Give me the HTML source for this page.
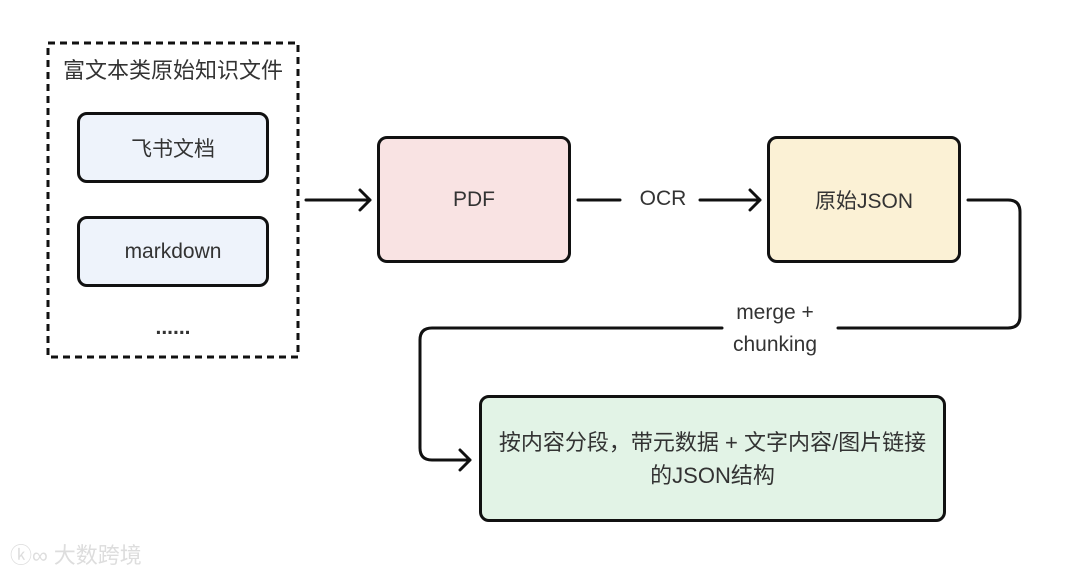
<!DOCTYPE html>
<html><head><meta charset="utf-8"><style>
body{margin:0;width:1080px;height:573px;background:#fff;overflow:hidden;position:relative;font-family:"Liberation Sans","Noto Sans CJK SC",sans-serif;color:#333}
.b{position:absolute;box-sizing:border-box;border:3px solid #111;border-radius:10px;display:flex;align-items:center;justify-content:center;text-align:center;font-size:21px}
.t{position:absolute;font-size:21px;text-align:center;background:#fff}
</style></head><body>
<svg width="1080" height="573" style="position:absolute;left:0;top:0">
<rect x="48" y="43" width="250" height="314" fill="none" stroke="#111" stroke-width="3" stroke-dasharray="7,5"/>
<g fill="none" stroke="#111" stroke-width="3" stroke-linecap="round" stroke-linejoin="round">
<path d="M306 200H370M360 190L370 200L360 210"/>
<path d="M578 200H620M700 200H760M750 190L760 200L750 210"/>
<path d="M968 200H1008Q1020 200 1020 212V316Q1020 328 1008 328H838M722 328H432Q420 328 420 340V448Q420 460 432 460H470M460 450L470 460L460 470"/>
</g>
</svg>
<div class="t" style="left:50px;top:53px;width:246px;font-size:22px">富文本类原始知识文件</div>
<div class="b" style="left:77px;top:112px;width:192px;height:71px;background:#eef3fb">飞书文档</div>
<div class="b" style="left:77px;top:216px;width:192px;height:71px;background:#eef3fb">markdown</div>
<div class="t" style="left:140px;top:316px;width:66px;font-weight:bold">......</div>
<div class="b" style="left:377px;top:136px;width:194px;height:127px;background:#f9e3e3">PDF</div>
<div class="t" style="left:628px;top:187px;width:70px">OCR</div>
<div class="b" style="left:767px;top:136px;width:194px;height:127px;background:#fbf1d5">原始JSON</div>
<div class="t" style="left:715px;top:297px;width:120px;line-height:32px;background:transparent">merge +<br>chunking</div>
<div class="b" style="left:479px;top:395px;width:467px;height:127px;background:#e2f3e6;line-height:33px;font-size:22px">按内容分段，带元数据 + 文字内容/图片链接<br>的JSON结构</div>
<div style="position:absolute;left:10px;top:538px;font-size:22px;color:#ddd">ⓚ∞ 大数跨境</div>
</body></html>
